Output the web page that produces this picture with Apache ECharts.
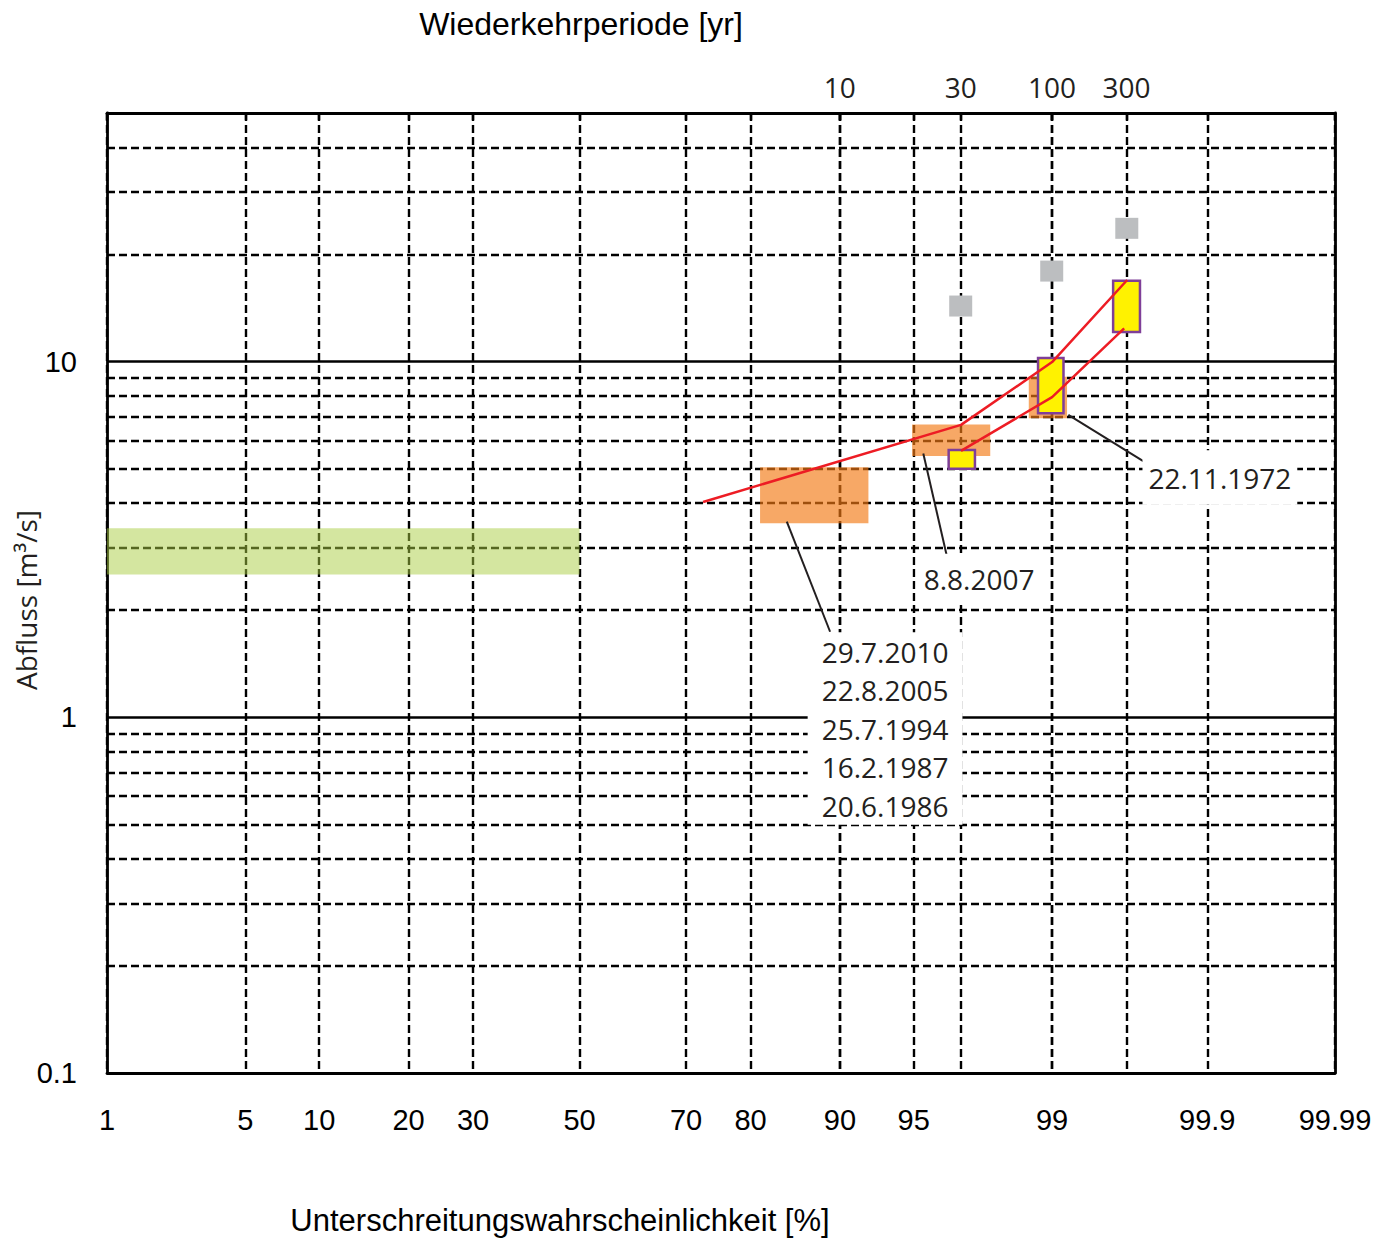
<!DOCTYPE html>
<html><head><meta charset="utf-8">
<script src="https://cdn.jsdelivr.net/npm/echarts@6/dist/echarts.min.js"></script>
<style>html,body{margin:0;padding:0;background:#fff}#c{width:1392px;height:1238px}</style>
</head><body><div id="c"></div>
<script>
// ---------------- data ----------------
const xTickPct = [1, 5, 10, 20, 30, 50, 70, 80, 90, 95, 99, 99.9, 99.99];
const xTickLabels = ['1', '5', '10', '20', '30', '50', '70', '80', '90', '95', '99', '99.9', '99.99'];
const returnPeriods = [10, 30, 100, 300];
const returnPeriodPct = [90, 96.97, 99, 99.646];
const yMajorTicks = [0.1, 1, 10];
const yMinorLines = [0.2, 0.3, 0.4, 0.5, 0.6, 0.7, 0.8, 0.9, 2, 3, 4, 5, 6, 7, 8, 9, 20, 30, 40];
const yMin = 0.1, yMax = 50;
// rectangles: [pct from, pct to, Q from, Q to]
const greenBand = [[1, 50, 2.52, 3.40]];
const orangeBoxes = [[81.29, 92.25, 3.51, 5.05], [94.92, 97.84, 5.43, 6.66], [98.65, 99.18, 6.93, 9.07]];
const yellowBoxes = [[96.54, 97.42, 5.00, 5.64], [98.80, 99.14, 7.16, 10.23], [99.569, 99.710, 12.11, 16.88]];
const grayPoints = [[96.97, 14.33], [98.995, 17.97], [99.647, 23.70]];
const redLineUpper = [[72.84, 4.03], [96.98, 6.64], [99.0, 9.97], [99.649, 16.96]];
const redLineLower = [[96.98, 5.61], [99.0, 7.95], [99.633, 12.40]];
const leaders = [
  [[84.62, 3.547], [89.13, 1.740]],
  [[95.47, 5.52], [96.49, 2.80]],
  [[99.194, 7.08], [99.724, 5.25]]
];
const eventLabelPos = [[93.37, 0.930], [97.54, 2.448], [99.919, 4.722]];
const eventLabelText = [
  ['29.7.2010', '22.8.2005', '25.7.1994', '16.2.1987', '20.6.1986'],
  ['8.8.2007'],
  ['22.11.1972']
];
const titleTop = 'Wiederkehrperiode [yr]';
const titleBottom = 'Unterschreitungswahrscheinlichkeit [%]';
const titleLeft = 'Abfluss [m³/s]';

// ---------------- helpers ----------------
function probit(p) {
  const a = [-3.969683028665376e+01, 2.209460984245205e+02, -2.759285104469687e+02, 1.383577518672690e+02, -3.066479806614716e+01, 2.506628277459239e+00];
  const b = [-5.447609879822406e+01, 1.615858368580409e+02, -1.556989798598866e+02, 6.680131188771972e+01, -1.328068155288572e+01];
  const c = [-7.784894002430293e-03, -3.223964580411365e-01, -2.400758277161838e+00, -2.549732539343734e+00, 4.374664141464968e+00, 2.938163982698783e+00];
  const d = [7.784695709041462e-03, 3.224671290700398e-01, 2.445134137142996e+00, 3.754408661907416e+00];
  const pl = 0.02425, ph = 1 - pl; let q, r;
  if (p < pl) { q = Math.sqrt(-2 * Math.log(p)); return (((((c[0]*q+c[1])*q+c[2])*q+c[3])*q+c[4])*q+c[5]) / ((((d[0]*q+d[1])*q+d[2])*q+d[3])*q+1); }
  if (p <= ph) { q = p - 0.5; r = q*q; return (((((a[0]*r+a[1])*r+a[2])*r+a[3])*r+a[4])*r+a[5])*q / (((((b[0]*r+b[1])*r+b[2])*r+b[3])*r+b[4])*r+1); }
  q = Math.sqrt(-2 * Math.log(1 - p)); return -(((((c[0]*q+c[1])*q+c[2])*q+c[3])*q+c[4])*q+c[5]) / ((((d[0]*q+d[1])*q+d[2])*q+d[3])*q+1);
}
const X = pct => probit(pct / 100);
const Y = q => Math.log10(q);
const nearestIdx = (arr, v) => { let bi = 0, bd = Infinity; arr.forEach((a, i) => { const dd = Math.abs(a - v); if (dd < bd) { bd = dd; bi = i; } }); return bi; };

const xMinZ = X(xTickPct[0]), xMaxZ = X(xTickPct[xTickPct.length - 1]);
const xTickZ = xTickPct.map(X);
const rpZ = returnPeriodPct.map(X);
const allVertZ = xTickZ.concat(rpZ);
const yMajorL = yMajorTicks.map(Y);

const GRID_COLOR = '#000';
const DASH = [8, 4];
const labelPadding = [[0, 14], [6, 8], [8, 6]];

function rectSeries(data, style, z) {
  return {
    type: 'custom', z, silent: true, clip: true,
    data: data.map(d => [X(d[0]), X(d[1]), Y(d[2]), Y(d[3])]),
    encode: { x: [0, 1], y: [2, 3] },
    renderItem: (params, api) => {
      const p1 = api.coord([api.value(0), api.value(3)]);
      const p2 = api.coord([api.value(1), api.value(2)]);
      return { type: 'rect', shape: { x: p1[0], y: p1[1], width: p2[0] - p1[0], height: p2[1] - p1[1] }, style: Object.assign({}, style) };
    }
  };
}
const toXY = arr => arr.map(p => [X(p[0]), Y(p[1])]);

const chart = echarts.init(document.getElementById('c'), null, { renderer: 'svg' });
const option = {
  animation: false,
  backgroundColor: '#fff',
  grid: { left: 107, top: 113, width: 1228, height: 960, containLabel: false, outerBoundsMode: 'none' },
  xAxis: [
    {
      type: 'value', position: 'bottom', min: xMinZ, max: xMaxZ,
      axisLine: { show: true, onZero: false, lineStyle: { color: GRID_COLOR, width: 2.8 } },
      axisTick: { show: false, customValues: allVertZ },
      axisLabel: {
        customValues: xTickZ, margin: 32, showMinLabel: true, showMaxLabel: true, hideOverlap: false,
        formatter: v => xTickLabels[nearestIdx(xTickZ, v)],
        fontFamily: 'Liberation Sans', fontSize: 29, color: '#000'
      },
      splitLine: { show: true, lineStyle: { color: GRID_COLOR, width: 2.4, type: DASH } }
    },
    {
      type: 'value', position: 'top', min: xMinZ, max: xMaxZ,
      axisLine: { show: true, onZero: false, lineStyle: { color: GRID_COLOR, width: 2.8 } },
      axisTick: { show: true, inside: true, length: 7, customValues: allVertZ, lineStyle: { color: GRID_COLOR, width: 2.4 } },
      axisLabel: {
        customValues: rpZ, margin: 12, showMinLabel: true, showMaxLabel: true, hideOverlap: false,
        formatter: v => String(returnPeriods[nearestIdx(rpZ, v)]),
        fontFamily: 'Open Sans', fontSize: 28, color: '#231f20'
      },
      splitLine: { show: false }
    }
  ],
  yAxis: [
    {
      type: 'value', position: 'left', min: Y(yMin), max: Y(yMax),
      axisLine: { show: true, onZero: false, lineStyle: { color: GRID_COLOR, width: 2.8 } },
      axisTick: { show: false, customValues: yMinorLines.map(Y) },
      axisLabel: {
        customValues: yMajorL, margin: 30, showMinLabel: true, showMaxLabel: true, hideOverlap: false,
        formatter: v => String(yMajorTicks[nearestIdx(yMajorL, v)]),
        fontFamily: 'Liberation Sans', fontSize: 29, color: '#000'
      },
      splitLine: { show: true, lineStyle: { color: GRID_COLOR, width: 2.4, type: DASH } }
    },
    {
      type: 'value', position: 'right', min: Y(yMin), max: Y(yMax),
      axisLine: { show: true, onZero: false, lineStyle: { color: GRID_COLOR, width: 2.8 } },
      axisTick: { show: false, customValues: yMajorL },
      axisLabel: { show: false },
      splitLine: { show: true, lineStyle: { color: GRID_COLOR, width: 2.6, type: 'solid' } }
    }
  ],
  graphic: [
    { type: 'text', x: 581, y: 24, style: { text: titleTop, fill: '#000', font: '32px "Liberation Sans"', align: 'center', verticalAlign: 'middle' } },
    { type: 'text', x: 560, y: 1220, style: { text: titleBottom, fill: '#000', font: '31px "Liberation Sans"', align: 'center', verticalAlign: 'middle' } },
    { type: 'text', x: 26, y: 600, rotation: Math.PI / 2, style: { text: titleLeft, fill: '#231f20', font: '28px "Open Sans"', align: 'center', verticalAlign: 'middle' } }
  ],
  series: [
    rectSeries(greenBand, { fill: 'rgba(169,205,65,0.5)' }, 2),
    rectSeries(orangeBoxes, { fill: 'rgba(243,121,20,0.65)' }, 3),
    rectSeries(yellowBoxes, { fill: '#fff200', stroke: '#7f3f98', lineWidth: 2.5 }, 4),
    { type: 'line', z: 5, data: toXY(redLineUpper), symbol: 'none', silent: true, lineStyle: { color: '#ed1c24', width: 2.5 } },
    { type: 'line', z: 5, data: toXY(redLineLower), symbol: 'none', silent: true, lineStyle: { color: '#ed1c24', width: 2.5 } },
    { type: 'scatter', z: 5, data: toXY(grayPoints), symbol: 'rect', symbolSize: [23, 21], itemStyle: { color: '#bcbec0', opacity: 1 }, silent: true },
    ...leaders.map(l => ({ type: 'line', z: 6, data: toXY(l), symbol: 'none', silent: true, lineStyle: { color: '#231f20', width: 2 } })),
    {
      type: 'scatter', z: 10, silent: true, symbolSize: 1, itemStyle: { color: '#fff', opacity: 1 },
      data: eventLabelPos.map((p, i) => ({ value: [X(p[0]), Y(p[1])], name: eventLabelText[i].join('\n'), label: { padding: labelPadding[i] } })),
      label: { show: true, opacity: 1, position: 'inside', formatter: '{b}', backgroundColor: '#fff', fontFamily: 'Open Sans', fontSize: 28, color: '#231f20', lineHeight: 38.5 }
    }
  ]
};
chart.setOption(option);
</script>
</body></html>
